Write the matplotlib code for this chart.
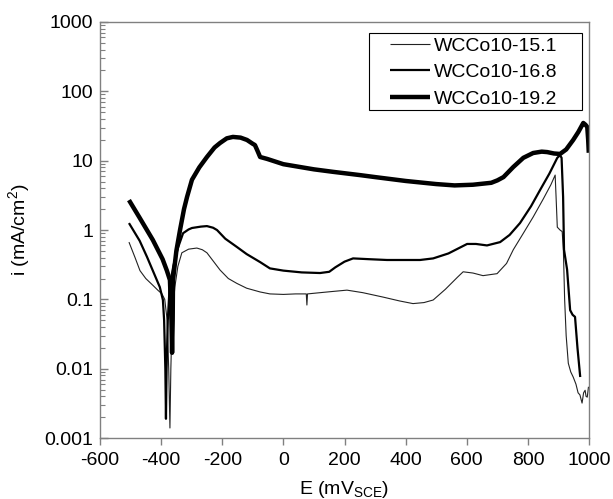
import matplotlib
matplotlib.use("Agg")
import matplotlib.pyplot as plt
from matplotlib.patches import Rectangle
from matplotlib.ticker import LogLocator, NullFormatter, FixedLocator

# ==========================================================
# Data (E in mV_SCE, i in mA/cm2)
# ==========================================================
labels = ["WCCo10-15.1", "WCCo10-16.8", "WCCo10-19.2"]

e_151 = [-505, -485, -469, -450, -427, -410, -397, -388, -380, -375, -371,
         -368, -364, -355, -345, -332, -310, -283, -265, -250, -230, -207,
         -180, -152, -120, -76, -44, 0, 40, 75, 77, 79, 120, 160, 208, 260,
         326, 380, 424, 460, 490, 530, 570, 588, 620, 653, 699, 730, 752,
         785, 817, 850, 875, 889, 892, 896, 905, 912, 916, 920, 925, 932,
         940, 948, 957, 964, 970, 977, 982, 987, 990, 994, 998]
i_151 = [0.67, 0.4, 0.26, 0.2, 0.16, 0.135, 0.12, 0.1, 0.05, 0.01, 0.0014,
         0.01, 0.05, 0.15, 0.3, 0.47, 0.53, 0.55, 0.52, 0.47, 0.36, 0.265,
         0.2, 0.17, 0.145, 0.128, 0.12, 0.118, 0.12, 0.12, 0.083, 0.12,
         0.125, 0.13, 0.136, 0.125, 0.108, 0.095, 0.087, 0.09, 0.098, 0.14,
         0.21, 0.25, 0.24, 0.22, 0.235, 0.33, 0.52, 0.9, 1.54, 2.8, 4.5,
         6.2, 3.0, 1.1, 1.0, 0.95, 0.5, 0.1, 0.03, 0.012, 0.009, 0.0076,
         0.006, 0.0045, 0.0042, 0.0032, 0.0045, 0.0049, 0.004, 0.0039, 0.0055]

e_168 = [-505, -470, -446, -420, -404, -394, -390, -386, -384, -382, -378,
         -372, -360, -345, -328, -310, -299, -270, -250, -230, -217, -190,
         -152, -120, -76, -44, 0, 60, 120, 150, 170, 200, 228, 280, 339, 400,
         447, 490, 540, 601, 630, 666, 709, 740, 774, 810, 840, 870, 896,
         905, 910, 915, 918, 928, 938, 946, 954, 962, 971]
i_168 = [1.26, 0.7, 0.41, 0.22, 0.15, 0.098, 0.05, 0.01, 0.0019, 0.01, 0.05,
         0.15, 0.3, 0.55, 0.9, 1.02, 1.07, 1.12, 1.14, 1.08, 1.0, 0.75,
         0.57, 0.45, 0.345, 0.28, 0.26, 0.245, 0.24, 0.25, 0.29, 0.35, 0.39,
         0.38, 0.37, 0.37, 0.37, 0.39, 0.46, 0.63, 0.63, 0.6, 0.67, 0.85,
         1.26, 2.2, 3.8, 6.5, 11, 12, 11, 3, 0.52, 0.27, 0.07, 0.06, 0.056,
         0.02, 0.0076]

e_192 = [-505, -470, -427, -395, -381, -371, -366, -364, -362, -361, -350,
         -338, -325, -315, -299, -275, -250, -225, -207, -185, -165, -140,
         -119, -100, -93, -85, -76, -53, 0, 55, 100, 163, 250, 300, 400, 500,
         560, 620, 680, 700, 720, 752, 785, 817, 845, 863, 885, 905, 925,
         948, 965, 981, 988, 994, 997, 999]
i_192 = [2.7, 1.5, 0.72, 0.38, 0.26, 0.19, 0.05, 0.017, 0.05, 0.19, 0.5,
         1.0, 2.0, 3.0, 5.3, 8.0, 11.3, 15.5, 18, 21, 22, 21.5, 19.9, 17.5,
         16.8, 14, 11.3, 10.6, 8.9, 8.1, 7.5, 6.9, 6.2, 5.8, 5.1, 4.6, 4.4,
         4.5, 4.8, 5.2, 5.8, 8.1, 11, 12.9, 13.5, 13.3, 12.7, 12.5, 14.5,
         19.9, 26, 35, 33, 30.6, 20, 13]

x_ticks = [-600, -400, -200, 0, 200, 400, 600, 800, 1000]
y_ticks = [0.001, 0.01, 0.1, 1, 10, 100, 1000]
y_ticklabels = ["0.001", "0.01", "0.1", "1", "10", "100", "1000"]

# ==========================================================
# Figure
# ==========================================================
plt.rcParams['font.family'] = ['Liberation Sans', 'DejaVu Sans']
plt.rcParams['mathtext.fontset'] = 'custom'
plt.rcParams['mathtext.rm'] = 'Liberation Sans'
plt.rcParams['axes.unicode_minus'] = False

fig = plt.figure(figsize=(6.13, 4.99), dpi=100)
ax = fig.add_axes([0.163, 0.122, 0.798, 0.834])

series = [(e_151, i_151, 0.8, '#222222'),
          (e_168, i_168, 1.6, 'black'),
          (e_192, i_192, 3.2, 'black')]
for (e, i, lw, col), lab in zip(series, labels):
    ax.plot(e, i, color=col, linewidth=lw, label=lab,
            solid_joinstyle='round', solid_capstyle='butt')

ax.set_yscale('log')
ax.set_xlim(-600, 1000)
ax.set_ylim(0.001, 1000)

# --- ticks ---
ax.xaxis.set_major_locator(FixedLocator(x_ticks))
ax.set_yticks(y_ticks)
ax.set_yticklabels(y_ticklabels)
ax.yaxis.set_minor_locator(LogLocator(base=10, subs=range(2, 10), numticks=20))
ax.yaxis.set_minor_formatter(NullFormatter())

ax.tick_params(axis='x', which='major', direction='out', length=5,
               width=1, color='#808080', labelsize=14, pad=5)
ax.tick_params(axis='y', which='major', direction='in', length=6,
               width=1, color='#808080', labelsize=14, pad=5)
ax.tick_params(axis='y', which='minor', direction='in', length=3.5,
               width=0.8, color='#808080')

for sp in ax.spines.values():
    sp.set_color('#808080')
    sp.set_linewidth(1.0)

# --- labels ---
ax.set_xlabel(r'E (mV$_{\mathrm{SCE}}$)', fontsize=14, labelpad=7)
ax.set_ylabel(r'i (mA/cm$^{2}$)', fontsize=14, labelpad=8)

# --- legend (box drawn separately: wider side padding than top/bottom) ---
leg = ax.legend(loc='upper right', bbox_to_anchor=(0.936, 0.964),
                borderaxespad=0, fontsize=14, frameon=False,
                handlelength=2.1, handletextpad=0.2,
                labelspacing=0.46, borderpad=0)
ax.add_patch(Rectangle((0.550, 0.788), 0.436, 0.186, transform=ax.transAxes,
                       fill=False, edgecolor='black', linewidth=0.8,
                       zorder=5))

fig.savefig('out.png', dpi=100)
